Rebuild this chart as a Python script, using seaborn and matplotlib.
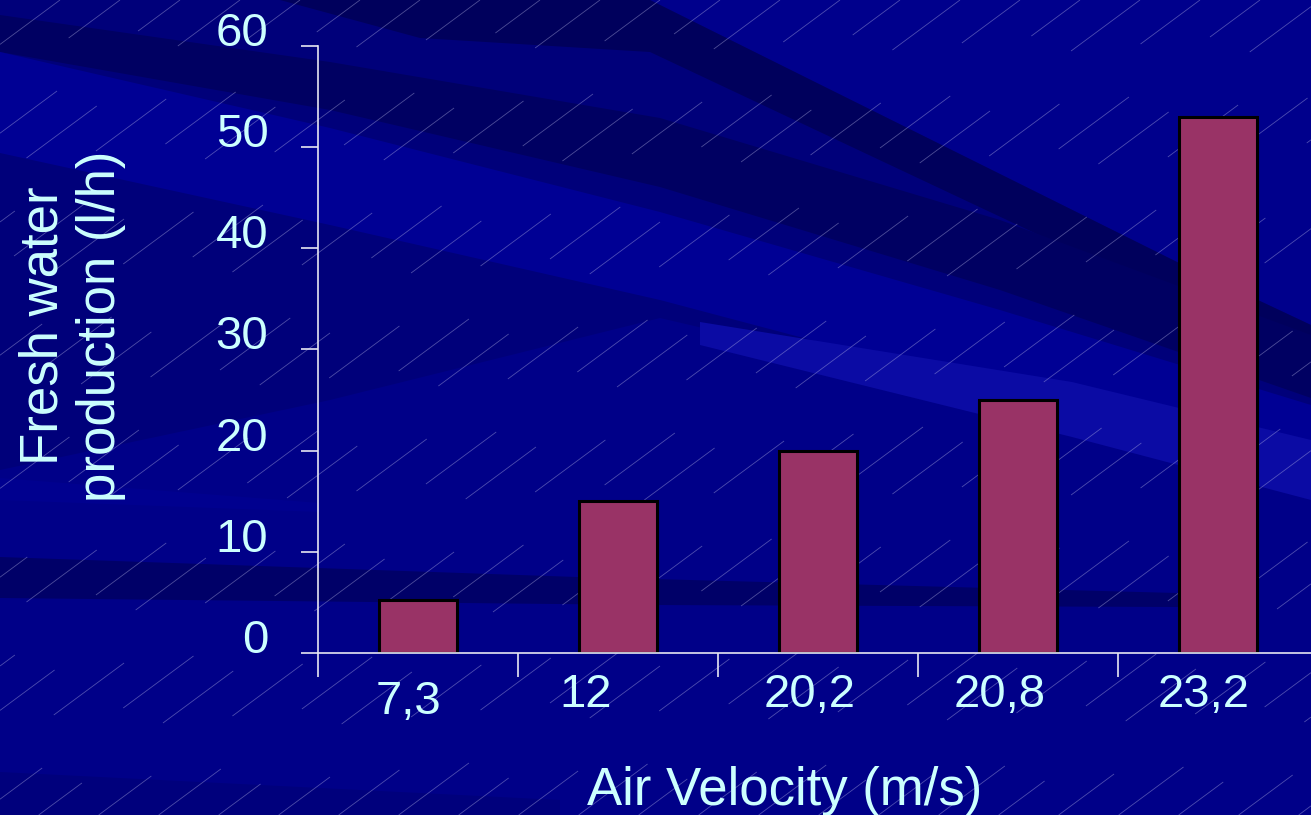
import numpy as np
import matplotlib
matplotlib.use("Agg")
import matplotlib.pyplot as plt
import matplotlib.transforms as mtransforms
from matplotlib.patches import Polygon, Rectangle
from matplotlib.collections import LineCollection
import seaborn as sns

# ---- data ----
velocities = ["7,3", "12", "20,2", "20,8", "23,2"]
production = [5.2, 15, 20, 25, 53]
y_ticks = [0, 10, 20, 30, 40, 50, 60]

x_title = "Air Velocity (m/s)"
y_title = "Fresh water\nproduction (l/h)"

# ---- style ----
sns.set_theme(style="white")
plt.rcParams["font.family"] = ["Liberation Sans", "DejaVu Sans"]

TEXT = "#CCFFFF"
AXIS = "#E6E6F2"
BAR = "#993366"

W, H = 1311, 815
fig = plt.figure(figsize=(W / 100, H / 100), dpi=100)

# ---- slide background: navy with darker sweeping streaks ----
bg = fig.add_axes([0, 0, 1, 1], zorder=0)
bg.set_xlim(0, W)
bg.set_ylim(H, 0)
bg.axis("off")


def band(points, color):
    bg.add_patch(Polygon(points, closed=True, facecolor=color, edgecolor="none"))


bg.add_patch(Rectangle((0, 0), W, H, facecolor="#00007A", edgecolor="none"))
band([(0, 470), (330, 400), (660, 318), (1311, 470), (1311, 815), (0, 815)], "#000088")
band([(650, 0), (1311, 0), (1311, 325), (1177, 262)], "#00008C")
band([(280, 0), (650, 0), (1177, 262), (1311, 325), (1311, 362), (1177, 300),
      (650, 52), (420, 38)], "#00005C")
band([(0, 15), (330, 62), (660, 118), (1000, 220), (1311, 335), (1311, 398),
      (1000, 290), (660, 187), (330, 110), (0, 52)], "#000062")
band([(0, 52), (330, 128), (660, 212), (1000, 310), (1311, 405), (1311, 480),
      (1000, 390), (660, 300), (330, 225), (0, 153)], "#000094")
band([(700, 322), (1072, 382), (1311, 440), (1311, 500), (1072, 437), (700, 345)], "#0B0BA4")
band([(0, 478), (320, 503), (320, 512), (0, 500)], "#00008F")
band([(0, 557), (577, 577), (1177, 593), (1260, 600), (1177, 607), (650, 605),
      (0, 598)], "#000068")
band([(0, 772), (560, 800), (560, 815), (0, 815)], "#00007C")

# fine dashed diagonal texture: parallel hairlines, visible in staggered rows
k = 0.74
row_period, row_on = 112.0, 52.0
segs = []
for i, c in enumerate(np.arange(0, H + k * W + 80, 60 * k)):
    jitter = (i * 7) % 22
    for p in range(-1, int(H / row_period) + 2):
        y_top = p * row_period - jitter
        y_bot = y_top + row_on
        y_a, y_b = max(y_top, 0.0), min(y_bot, float(H))
        if y_b <= y_a:
            continue
        x_a, x_b = (c - y_b) / k, (c - y_a) / k
        x_a, x_b = max(x_a, 0.0), min(x_b, float(W))
        if x_b <= x_a:
            continue
        segs.append([(x_a, c - k * x_a), (x_b, c - k * x_b)])
bg.add_collection(LineCollection(segs, colors=[(0.72, 0.72, 0.90, 0.42)], linewidths=0.6))

# ---- chart ----
ax = fig.add_axes([318 / W, (H - 653) / H, 1000 / W, 607.3 / H], zorder=1)
ax.patch.set_alpha(0)

sns.barplot(x=velocities, y=production, color=BAR, saturation=1, width=0.39,
            edgecolor="black", linewidth=2.2, errorbar=None, ax=ax)

ax.set_xlim(-0.5, 4.5)
ax.set_ylim(0, 60)

for side in ("top", "right"):
    ax.spines[side].set_visible(False)
for side in ("left", "bottom"):
    ax.spines[side].set_color(AXIS)
    ax.spines[side].set_linewidth(1.2)

# y axis
ax.set_yticks(y_ticks)
ax.set_yticklabels([str(v) for v in y_ticks])
ax.tick_params(axis="y", direction="out", length=12.2, width=1.2, color=AXIS,
               pad=23.5, labelsize=34, labelcolor=TEXT, left=True)
lift = mtransforms.ScaledTranslation(0, 0.17, fig.dpi_scale_trans)
for t in ax.yaxis.get_major_ticks():
    t.label1.set_transform(t.label1.get_transform() + lift)

# x axis: tick marks between categories, labels under each bar
bounds = np.arange(-0.5, len(velocities), 1.0)
ax.set_xticks(bounds)
ax.set_xticklabels([])
ax.set_xticks(range(len(velocities)), minor=True)
ax.set_xticklabels(velocities, minor=True)
ax.tick_params(axis="x", which="major", direction="out", length=17.3, width=1.2,
               color=AXIS, bottom=True)
ax.tick_params(axis="x", which="minor", length=0, pad=14.4, labelsize=34,
               labelcolor=TEXT, bottom=True)
label_dx = [-10, -32, -8, -18, -14]
label_dy = [-7, 0, 0, 0, 0]
for t, dx, dy in zip(ax.xaxis.get_minor_ticks(), label_dx, label_dy):
    shift = mtransforms.ScaledTranslation(dx / 100, dy / 100, fig.dpi_scale_trans)
    t.label1.set_transform(t.label1.get_transform() + shift)

ax.grid(False)

ax.set_xlabel(x_title, fontsize=38, color=TEXT)
ax.xaxis.label.set_va("baseline")
ax.xaxis.set_label_coords((785 - 318) / 1000, (653 - 805) / 607.3)

ax.set_ylabel(y_title, fontsize=38, color=TEXT, linespacing=1.2,
              multialignment="center")
ax.yaxis.label.set_va("center")
ax.yaxis.label.set_ha("center")
ax.yaxis.set_label_coords((72 - 318) / 1000, (653 - 326) / 607.3)

fig.savefig("out.png", dpi=100)
